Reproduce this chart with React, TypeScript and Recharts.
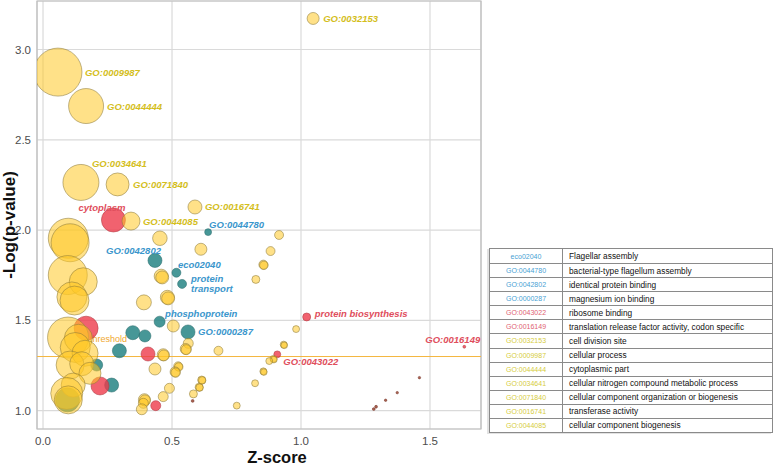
import React from 'react';
import {
  ScatterChart,
  Scatter,
  XAxis,
  YAxis,
  ZAxis,
  CartesianGrid,
  ReferenceLine,
  ReferenceArea,
} from 'recharts';

// ---------- axes ----------
const X_DOMAIN: [number, number] = [-0.0233, 1.6977];
const Y_DOMAIN: [number, number] = [0.8987, 3.2687];
const X_TICKS = [0, 0.5, 1, 1.5];
const Y_TICKS = [1, 1.5, 2, 2.5, 3];
const THRESHOLD = 1.3;

// ---------- data: [z-score, -log(p), size, label?] ----------
type Pt = [number, number, number, string?];

const redTerms: Pt[] = [
  [0.167, 1.457, 144],
  [0.221, 1.137, 81],
  [0.273, 2.056, 144, 'cytoplasm'],
  [0.407, 1.314, 49],
  [0.437, 1.028, 25],
  [1.022, 1.519, 16, 'protein biosynthesis'],
  [0.908, 1.312, 12, 'GO:0043022'],
  [1.633, 1.354, 2, 'GO:0016149'],
];

const blueTerms: Pt[] = [
  [0.095, 1.06, 144],
  [0.208, 1.253, 36],
  [0.266, 1.142, 49],
  [0.296, 1.332, 49],
  [0.348, 1.432, 49],
  [0.395, 1.414, 36],
  [0.434, 1.832, 49, 'GO:0042802'],
  [0.452, 1.493, 30, 'phosphoprotein'],
  [0.517, 1.764, 20, 'eco02040'],
  [0.539, 1.702, 20, 'protein transport'],
  [0.562, 1.436, 49, 'GO:0000287'],
  [0.64, 1.989, 12, 'GO:0044780'],
];

const yellowTerms: Pt[] = [
  [0.058, 2.875, 576, 'GO:0009987'],
  [0.167, 2.687, 306, 'GO:0044444'],
  [0.147, 2.264, 324, 'GO:0034641'],
  [0.289, 2.253, 132, 'GO:0071840'],
  [0.589, 2.128, 49, 'GO:0016741'],
  [0.341, 2.05, 81, 'GO:0044085'],
  [1.047, 3.172, 36, 'GO:0032153'],
  [0.098, 1.955, 400],
  [0.105, 1.93, 361],
  [0.096, 1.751, 380],
  [0.156, 1.714, 196],
  [0.112, 1.63, 225],
  [0.122, 1.61, 210],
  [0.097, 1.405, 420],
  [0.137, 1.401, 196],
  [0.125, 1.35, 225],
  [0.163, 1.318, 169],
  [0.105, 1.253, 196],
  [0.15, 1.26, 144],
  [0.182, 1.207, 121],
  [0.117, 1.142, 144],
  [0.092, 1.096, 256],
  [0.098, 1.06, 196],
  [0.453, 1.955, 53],
  [0.612, 1.894, 36],
  [0.458, 1.745, 49],
  [0.462, 1.738, 42],
  [0.482, 1.628, 49],
  [0.485, 1.622, 42],
  [0.391, 1.6, 56],
  [0.505, 1.469, 36],
  [0.563, 1.373, 25],
  [0.553, 1.342, 30],
  [0.555, 1.338, 25],
  [0.466, 1.31, 36],
  [0.468, 1.306, 30],
  [0.68, 1.332, 20],
  [0.434, 1.231, 36],
  [0.524, 1.246, 20],
  [0.526, 1.242, 18],
  [0.512, 1.215, 25],
  [0.514, 1.211, 22],
  [0.49, 1.124, 25],
  [0.466, 1.078, 25],
  [0.393, 1.061, 36],
  [0.395, 1.057, 30],
  [0.389, 1.041, 25],
  [0.383, 1.008, 30],
  [0.615, 1.17, 16],
  [0.617, 1.168, 14],
  [0.605, 1.13, 16],
  [0.607, 1.128, 14],
  [0.583, 1.093, 16],
  [0.751, 1.028, 12],
  [0.822, 1.152, 12],
  [0.825, 1.727, 16],
  [0.915, 1.973, 20],
  [0.882, 1.884, 20],
  [0.854, 1.809, 20],
  [0.856, 1.805, 18],
  [0.981, 1.452, 12],
  [0.933, 1.366, 12],
  [0.935, 1.362, 11],
  [0.893, 1.287, 12],
  [0.895, 1.283, 11],
  [0.877, 1.275, 12],
  [0.854, 1.218, 12],
  [0.856, 1.214, 11],
];

const minorTerms: Pt[] = [
  [0.58, 1.054, 2],
  [1.282, 1.009, 2],
  [1.291, 1.022, 2],
  [1.328, 1.058, 1.5],
  [1.373, 1.1, 1.5],
  [1.459, 1.183, 1.5],
];

// ---------- legend table ----------
const legendCodes = [
  'eco02040', 'GO:0044780', 'GO:0042802', 'GO:0000287', 'GO:0043022', 'GO:0016149',
  'GO:0032153', 'GO:0009987', 'GO:0044444', 'GO:0034641', 'GO:0071840', 'GO:0016741', 'GO:0044085',
];
const legendDescs = [
  'Flagellar assembly',
  'bacterial-type flagellum assembly',
  'identical protein binding',
  'magnesium ion binding',
  'ribosome binding',
  'translation release factor activity, codon specific',
  'cell division site',
  'cellular process',
  'cytoplasmic part',
  'cellular nitrogen compound metabolic process',
  'cellular component organization or biogenesis',
  'transferase activity',
  'cellular component biogenesis',
];
const legendGroups = ['blue', 'blue', 'blue', 'blue', 'red', 'red',
  'yellow', 'yellow', 'yellow', 'yellow', 'yellow', 'yellow', 'yellow'];

// ---------- styles ----------
const FONT = '"Liberation Sans", Arial, Helvetica, sans-serif';
const COLORS: Record<string, { fill: string; op: number; stroke: string; label: string; table: string }> = {
  yellow: { fill: '#FFC926', op: 0.55, stroke: '#8C7A3A', label: '#D4BE1C', table: '#D6CC3C' },
  blue: { fill: '#278585', op: 0.85, stroke: '#2B6E6E', label: '#3A96CC', table: '#4A9FD4' },
  red: { fill: '#EE3B4B', op: 0.8, stroke: '#B03A44', label: '#E04E5C', table: '#E06272' },
  minor: { fill: '#A0503C', op: 0.9, stroke: '#7A3A30', label: '#000', table: '#000' },
};

const LABEL_PLACE: Record<string, { dx: number; dy: number; anchor: 'start' | 'middle' | 'end' }> = {
  'GO:0009987': { dx: 27, dy: 0, anchor: 'start' },
  'GO:0044444': { dx: 21, dy: 0, anchor: 'start' },
  'GO:0034641': { dx: 11, dy: -18.5, anchor: 'start' },
  'GO:0071840': { dx: 15.5, dy: 0, anchor: 'start' },
  'GO:0016741': { dx: 10, dy: 0, anchor: 'start' },
  'GO:0044085': { dx: 12, dy: 0, anchor: 'start' },
  'GO:0032153': { dx: 10, dy: 0.5, anchor: 'start' },
  'GO:0044780': { dx: 1, dy: -7.5, anchor: 'start' },
  'GO:0042802': { dx: 6, dy: -9.5, anchor: 'end' },
  eco02040: { dx: 1.5, dy: -8, anchor: 'start' },
  'protein transport': { dx: 9, dy: -5.5, anchor: 'start' },
  phosphoprotein: { dx: 5.5, dy: -8, anchor: 'start' },
  'GO:0000287': { dx: 10, dy: 0, anchor: 'start' },
  cytoplasm: { dx: -11.5, dy: -13, anchor: 'middle' },
  'protein biosynthesis': { dx: 8, dy: -3, anchor: 'start' },
  'GO:0043022': { dx: 6, dy: 7, anchor: 'start' },
  'GO:0016149': { dx: -39, dy: -7, anchor: 'start' },
};

const toRows = (pts: Pt[], group: string) =>
  pts.map(([x, y, z, name]) => ({ x, y, z, name, group }));

const redData = toRows(redTerms, 'red');
const blueData = toRows(blueTerms, 'blue');
const yellowData = toRows(yellowTerms, 'yellow');
const minorData = toRows(minorTerms, 'minor');
const labelData = [...redData, ...blueData, ...yellowData].filter((d) => d.name);
const thresholdData = [{ x: 0, y: THRESHOLD, z: 1 }];

const LabelShape = (p: any) => {
  const d = p.payload;
  const place = LABEL_PLACE[d.name] || { dx: 8, dy: 0, anchor: 'start' };
  const color = COLORS[d.group].label;
  const lines = d.name === 'protein transport' ? ['protein', 'transport'] : [d.name];
  return (
    <g>
      {lines.map((l: string, i: number) => (
        <text
          key={i}
          x={p.cx + place.dx}
          y={p.cy + place.dy + i * 10.5}
          textAnchor={place.anchor}
          dominantBaseline="central"
          fill={color}
          fontFamily={FONT}
          fontSize={9.5}
          fontWeight="bold"
          fontStyle="italic"
        >
          {l}
        </text>
      ))}
    </g>
  );
};

const ThresholdText = (p: any) => (
  <text
    x={p.cx + 47}
    y={p.cy - 18}
    dominantBaseline="central"
    fill="#F0A830"
    fontFamily={FONT}
    fontSize={9}
  >
    threshold
  </text>
);

const bubbleProps = (g: string) => ({
  fill: COLORS[g].fill,
  fillOpacity: COLORS[g].op,
  stroke: COLORS[g].stroke,
  strokeOpacity: 0.55,
  strokeWidth: 1,
});

export default function App() {
  return (
    <div style={{ position: 'absolute', left: 0, top: 0, width: 776, height: 465, background: '#fff', fontFamily: FONT }}>
      <ScatterChart width={776} height={465} margin={{ top: 1, right: 295, bottom: 0, left: 0 }}>
        <CartesianGrid stroke="#dadada" strokeWidth={1.2} />
        <XAxis
          type="number"
          dataKey="x"
          domain={X_DOMAIN}
          ticks={X_TICKS}
          allowDataOverflow
          axisLine={false}
          tickLine={false}
          tickSize={6}
          height={36}
          tickFormatter={(v: number) => v.toFixed(1)}
          tick={{ fontSize: 11.5, fill: '#4d4d4d', fontFamily: FONT }}
          label={(props: any) => (
            <text x={277} y={457} textAnchor="middle" dominantBaseline="central" fontSize={16.5} fontWeight="bold" fill="#111" fontFamily={FONT}>
              Z-score
            </text>
          )}
        />
        <YAxis
          type="number"
          dataKey="y"
          domain={Y_DOMAIN}
          ticks={Y_TICKS}
          allowDataOverflow
          axisLine={false}
          tickLine={false}
          tickSize={4}
          width={37}
          tickFormatter={(v: number) => v.toFixed(1)}
          tick={{ fontSize: 11.5, fill: '#4d4d4d', fontFamily: FONT }}
          label={(props: any) => (
            <text
              x={9}
              y={225}
              transform="rotate(-90 9 225)"
              textAnchor="middle"
              dominantBaseline="central"
              fontSize={17}
              fontWeight="bold"
              fill="#111"
              fontFamily={FONT}
            >
              -Log(p-value)
            </text>
          )}
        />
        <ZAxis type="number" dataKey="z" domain={[0, 600]} range={[0, 600 * Math.PI]} />
        <ReferenceArea
          x1={X_DOMAIN[0]}
          x2={X_DOMAIN[1]}
          y1={Y_DOMAIN[0]}
          y2={Y_DOMAIN[1]}
          fill="none"
          stroke="#bdbdbd"
          strokeWidth={1.2}
        />
        <ReferenceLine y={THRESHOLD} stroke="#F4B63F" strokeWidth={1} />
        <Scatter data={thresholdData} shape={ThresholdText} isAnimationActive={false} />
        <Scatter data={blueData} shape="circle" {...bubbleProps('blue')} isAnimationActive={false} />
        <Scatter data={redData} shape="circle" {...bubbleProps('red')} isAnimationActive={false} />
        <Scatter data={yellowData} shape="circle" {...bubbleProps('yellow')} isAnimationActive={false} />
        <Scatter data={minorData} shape="circle" {...bubbleProps('minor')} isAnimationActive={false} />
        <Scatter data={labelData} shape={LabelShape} isAnimationActive={false} />
      </ScatterChart>

      <div
        style={{
          position: 'absolute',
          left: 489,
          top: 248,
          width: 284,
          height: 185,
          border: '1px solid #8a8a8a',
          boxSizing: 'border-box',
          boxShadow: '-2px 1px 0 #e2e2e2',
          display: 'grid',
          gridTemplateRows: 'repeat(13, 1fr)',
          background: '#fff',
        }}
      >
        {legendCodes.map((code, i) => (
          <div
            key={code}
            style={{
              display: 'grid',
              gridTemplateColumns: '73px 1fr',
              borderTop: i === 0 ? 'none' : '1px solid #8a8a8a',
              alignItems: 'center',
            }}
          >
            <div
              style={{
                color: COLORS[legendGroups[i]].table,
                fontSize: 7,
                textAlign: 'center',
                borderRight: '1px solid #8a8a8a',
                height: '100%',
                display: 'flex',
                alignItems: 'center',
                justifyContent: 'center',
              }}
            >
              {code}
            </div>
            <div style={{ fontSize: 8.3, color: '#111', paddingLeft: 6, whiteSpace: 'nowrap' }}>{legendDescs[i]}</div>
          </div>
        ))}
      </div>
    </div>
  );
}
